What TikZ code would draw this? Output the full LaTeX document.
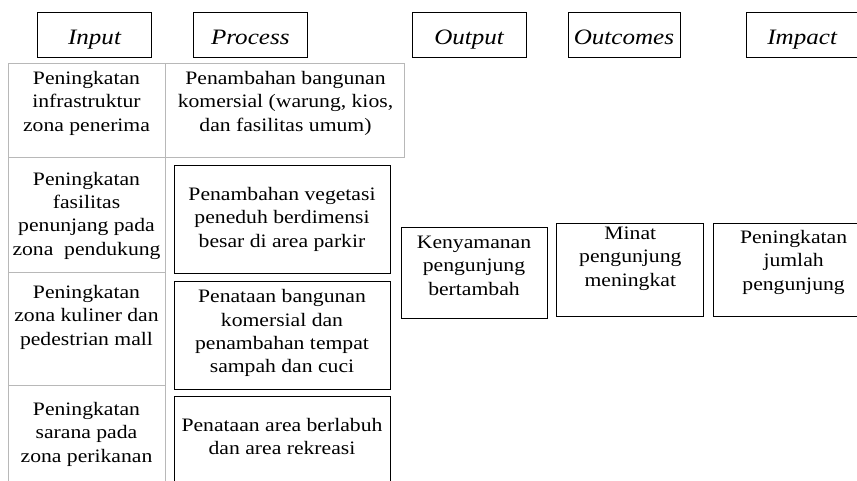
\documentclass[tikz,border=0pt]{standalone}
\usepackage{fontspec}
\setmainfont{Liberation Serif}[FakeStretch=1.14]
\usepackage{tikz}
\usetikzlibrary{positioning}
\tikzset{%
% Specifications for style of nodes:
base/.style = {draw, line width=0.8pt, inner sep=0, align=center},
header/.style = {base, minimum width=114pt, text height=32pt, text depth=13pt, font=\fontsize{22}{26}\selectfont\itshape},
process/.style = {base, minimum width=216pt},
result/.style = {base, minimum width=146pt},
cellText/.style = {anchor=base, inner sep=0, align=center},
grid/.style = {draw=black!28, line width=1pt},
}

\begin{document}
\begin{tikzpicture}[
        x=1pt, y=1pt,
        every node/.style={font=\fontsize{19}{23.3}\selectfont}
    ]
    \useasboundingbox (0,0) rectangle (857,-480);
    % Specification of header nodes
    \node (hdrInput) [header] at (94.5,-34.5) {Input};
    \node (hdrProcess) [header, right=41pt of hdrInput] {Process};
    \node (hdrOutput) [header, right=104pt of hdrProcess] {Output};
    \node (hdrOutcomes) [header, minimum width=112pt, right=41pt of hdrOutput] {Outcomes};
    \node (hdrImpact) [header, minimum width=112pt, right=65.5pt of hdrOutcomes] {Impact};

    % table lines
    \draw [grid] (8,-63) rectangle (404,-157);
    \draw [grid] (165,-63) -- (165,-490);
    \draw [grid] (8,-157) -- (8,-490);
    \draw [grid] (8,-272) -- (165,-272);
    \draw [grid] (8,-385) -- (165,-385);

    % input column (base = last line)
    \node (inInfra) [cellText] at (86.5,-131) {Peningkatan\\infrastruktur\\zona penerima};
    \node (inFasilitas) [cellText] at (86.5,-255) {Peningkatan\\fasilitas\\penunjang pada\\zona\ \ pendukung};
    \node (inKuliner) [cellText] at (86.5,-345) {Peningkatan\\zona kuliner dan\\pedestrian mall};
    \node (inPerikanan) [cellText] at (86.5,-462) {Peningkatan\\sarana pada\\zona perikanan};

    % process column
    \node (prKomersial) [cellText] at (285.5,-131) {Penambahan bangunan\\komersial (warung, kios,\\dan fasilitas umum)};
    \node (prVeg) [process, text height=82pt, text depth=26pt] at (282,-219) {Penambahan vegetasi\\peneduh berdimensi\\besar di area parkir};
    \node (prTata) [process, text height=91pt, text depth=17pt, below=8pt of prVeg] {Penataan bangunan\\komersial dan\\penambahan tempat\\sampah dan cuci};
    \node (prLabuh) [process, text height=58pt, text depth=32pt, below=6pt of prTata] {Penataan area berlabuh\\dan area rekreasi};

    % output, outcomes, impact
    \node (outNyaman) [result, text height=68pt, text depth=23pt] at (474,-272.5) {Kenyamanan\\pengunjung\\bertambah};
    \node (outMinat) [result, minimum width=147pt, text height=63pt, text depth=30pt, right=9pt of outNyaman, yshift=3pt] {Minat\\pengunjung\\meningkat};
    \node (impJumlah) [result, minimum width=160pt, text height=67pt, text depth=26pt, right=9pt of outMinat] {Peningkatan\\jumlah\\pengunjung};
\end{tikzpicture}
\end{document}
